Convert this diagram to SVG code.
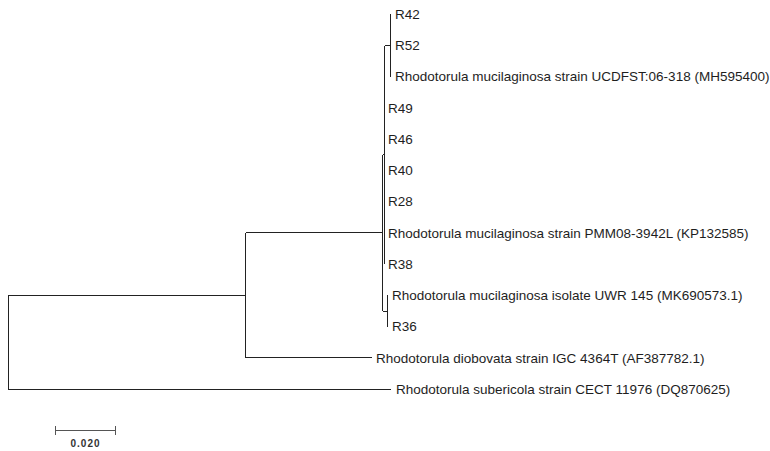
<svg xmlns="http://www.w3.org/2000/svg" width="770" height="451" viewBox="0 0 770 451">
<style>
.br{stroke:#222;stroke-width:1;fill:none;shape-rendering:crispEdges}
.lb{font-family:"Liberation Sans",Arial,sans-serif;font-size:13.5px;fill:#1e1e1e}
.sc{stroke:#555;stroke-width:1;fill:none;shape-rendering:crispEdges}
.st{font-family:"Liberation Sans",Arial,sans-serif;font-size:10px;font-weight:bold;letter-spacing:1px;fill:#333}
</style>
<rect width="770" height="451" fill="#fff"/>
<g id="connectors">
<path class="br" d="M8.5 295.25V389.5M8.5 295.5H245.5M8.5 389.5H391"/>
<path class="br" d="M245.5 232.75V357.75M245.5 232.5H382.5M245.5 357.5H372"/>
<path class="br" d="M382.5 154.6V310.9M382.5 154.5H384.5M382.5 311.5H387.5"/>
<path class="br" d="M384.5 45.5V264"/>
<path class="br" d="M384.5 45.5H390.5"/>
<path class="br" d="M390.5 14V76.5"/>
<path class="br" d="M387.5 295.25V326.5"/>
</g>
<g id="R42"><text class="lb" x="395" y="18.8">R42</text></g>
<g id="R52"><text class="lb" x="395" y="50.1">R52</text></g>
<g id="UCDFST"><text class="lb" x="395" y="81.3">Rhodotorula mucilaginosa strain UCDFST:06-318 (MH595400)</text></g>
<g id="R49"><text class="lb" x="388" y="112.6">R49</text></g>
<g id="R46"><text class="lb" x="388" y="143.8">R46</text></g>
<g id="R40"><text class="lb" x="388" y="175.1">R40</text></g>
<g id="R28"><text class="lb" x="388" y="206.3">R28</text></g>
<g id="PMM08"><text class="lb" x="388" y="237.6">Rhodotorula mucilaginosa strain PMM08-3942L (KP132585)</text></g>
<g id="R38"><text class="lb" x="388" y="268.8">R38</text></g>
<g id="UWR145"><text class="lb" x="392" y="300.1">Rhodotorula mucilaginosa isolate UWR 145 (MK690573.1)</text></g>
<g id="R36"><text class="lb" x="392" y="331.3">R36</text></g>
<g id="diobovata"><text class="lb" x="376" y="362.6">Rhodotorula diobovata strain IGC 4364T (AF387782.1)</text></g>
<g id="subericola"><text class="lb" x="396" y="393.8">Rhodotorula subericola strain CECT 11976 (DQ870625)</text></g>
<g id="scalebar">
<path class="sc" d="M55.5 430.5H115.5M55.5 426V435M115.5 426V435"/>
<text class="st" x="85.5" y="447" text-anchor="middle">0.020</text>
</g>
</svg>
